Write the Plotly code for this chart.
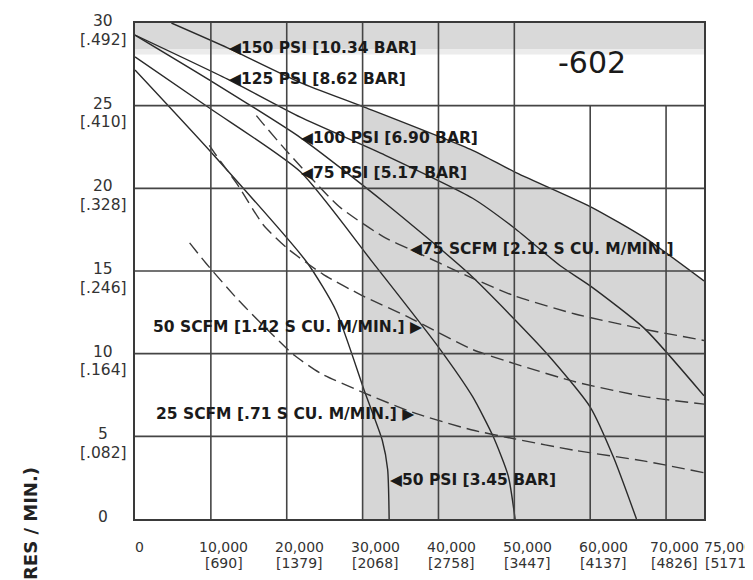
import numpy as np
import plotly.graph_objects as go

# ---------------- tick data ----------------
x_ticks = [0, 10000, 20000, 30000, 40000, 50000, 60000, 70000, 75000]
x_tick_main = ["0", "10,000", "20,000", "30,000", "40,000", "50,000", "60,000", "70,000", "75,000"]
x_tick_sub = ["", "[690]", "[1379]", "[2068]", "[2758]", "[3447]", "[4137]", "[4826]", "[5171]"]
y_ticks = [0, 5, 10, 15, 20, 25, 30]
y_tick_main = ["0", "5", "10", "15", "20", "25", "30"]
y_tick_sub = ["", "[.082]", "[.164]", "[.246]", "[.328]", "[.410]", "[.492]"]

# ---------------- pressure curves (solid) ----------------
psi150_x = [4800, 12200, 21800, 30300, 44500, 50000, 60000, 67200, 75000]
psi150_y = [30.0, 28.5, 26.4, 24.9, 22.3, 21.0, 18.9, 17.0, 14.4]

psi125_x = [0, 12200, 21800, 33000, 44500, 50000, 56100, 60000, 67200, 75000]
psi125_y = [29.27, 26.6, 24.3, 22.0, 19.4, 17.6, 15.3, 14.1, 11.5, 7.45]

psi100_x = [0, 10000, 21800, 33000, 44100, 54300, 60000, 63100, 66100]
psi100_y = [29.27, 26.5, 23.07, 19.1, 14.8, 10.0, 6.77, 3.7, 0.0]

psi75_x = [0, 10000, 21800, 31200, 40000, 44500, 47200, 49200, 50100]
psi75_y = [27.95, 24.8, 21.0, 15.6, 10.4, 7.4, 5.0, 2.6, 0.0]

psi50_x = [0, 10000, 22700, 26500, 30350, 32600, 33300, 33500]
psi50_y = [27.16, 22.2, 15.5, 12.6, 7.6, 4.75, 3.0, 0.0]

# ---------------- air consumption curves (dashed) ----------------
scfm75_x = [16000, 16900, 20100, 26900, 33000, 36100, 44300, 50000, 58000, 66900, 75000]
scfm75_y = [24.4, 23.9, 22.2, 18.9, 17.0, 16.35, 14.6, 13.5, 12.4, 11.5, 10.8]

scfm50_x = [9800, 10700, 13400, 16900, 20000, 24800, 30000, 36100, 44500, 50000, 58000, 67200, 75000]
scfm50_y = [22.6, 22.0, 20.3, 17.8, 16.4, 14.8, 13.5, 12.2, 10.25, 9.4, 8.3, 7.4, 6.95]

scfm25_x = [7200, 9300, 13500, 17900, 21000, 24500, 30350, 36900, 44300, 50000, 58000, 67200, 75000]
scfm25_y = [16.7, 15.5, 13.3, 11.25, 9.9, 8.8, 7.6, 6.4, 5.4, 4.85, 4.15, 3.5, 2.8]

SHADE_START = 30000

fig = go.Figure()

# shaded operating region under the 150 PSI curve
fill_x = [SHADE_START] + [x for x in psi150_x if x > SHADE_START]
fill_y = [float(np.interp(SHADE_START, psi150_x, psi150_y))] + [y for x, y in zip(psi150_x, psi150_y) if x > SHADE_START]
fig.add_trace(go.Scatter(x=fill_x, y=fill_y, mode="lines", fill="tozeroy",
                         fillcolor="#d6d6d6", line=dict(width=0, shape="spline", smoothing=0.6),
                         hoverinfo="skip", showlegend=False))

solid = dict(color="#2a2a2a", width=1.4, shape="spline", smoothing=0.6)
dashed = dict(color="#3a3a3a", width=1.4, shape="spline", smoothing=0.6, dash="13px,6px")

for xs, ys in [(psi150_x, psi150_y), (psi125_x, psi125_y), (psi100_x, psi100_y),
               (psi75_x, psi75_y), (psi50_x, psi50_y)]:
    fig.add_trace(go.Scatter(x=xs, y=ys, mode="lines", line=solid, hoverinfo="skip", showlegend=False))
for xs, ys in [(scfm75_x, scfm75_y), (scfm50_x, scfm50_y), (scfm25_x, scfm25_y)]:
    fig.add_trace(go.Scatter(x=xs, y=ys, mode="lines", line=dashed, hoverinfo="skip", showlegend=False))

shapes = []
# top grey band
shapes.append(dict(type="rect", xref="x", yref="y", x0=0, x1=75000, y0=28.4, y1=30,
                   fillcolor="#d9d9d9", line=dict(width=0), layer="below"))
shapes.append(dict(type="rect", xref="x", yref="y", x0=0, x1=75000, y0=28.1, y1=28.4,
                   fillcolor="#ececec", line=dict(width=0), layer="below"))
grid_col = "#454545"
for xv in x_ticks[1:-1]:
    top = 25 if xv >= 60000 else 30
    shapes.append(dict(type="line", xref="x", yref="y", x0=xv, x1=xv, y0=0, y1=top,
                       line=dict(color=grid_col, width=1.6), layer="above"))
for yv in y_ticks[1:-1]:
    shapes.append(dict(type="line", xref="x", yref="y", x0=0, x1=75000, y0=yv, y1=yv,
                       line=dict(color=grid_col, width=1.6), layer="above"))

ytick_font = dict(family="DejaVu Sans", size=15.5, color="#333333")
xtick_font = dict(family="DejaVu Sans", size=14, color="#333333")
ann = []
x_shift = {0: 4, 70000: 8, 75000: 24}
for xv, t1, t2 in zip(x_ticks, x_tick_main, x_tick_sub):
    s = x_shift.get(xv, 13)
    ann.append(dict(x=xv, y=0, xref="x", yref="paper", text=t1, showarrow=False,
                    xanchor="center", yanchor="middle", xshift=s, yshift=-28, font=xtick_font))
    if t2:
        ann.append(dict(x=xv, y=0, xref="x", yref="paper", text=t2, showarrow=False,
                        xanchor="center", yanchor="middle", xshift=s, yshift=-44, font=xtick_font))
for yv, t1, t2 in zip(y_ticks, y_tick_main, y_tick_sub):
    ann.append(dict(x=0, y=yv, xref="paper", yref="y", text=t1, showarrow=False,
                    xanchor="center", yanchor="middle", xshift=-32, yshift=2, font=ytick_font))
    if t2:
        ann.append(dict(x=0, y=yv, xref="paper", yref="y", text=t2, showarrow=False,
                        xanchor="center", yanchor="middle", xshift=-32, yshift=-16.5, font=ytick_font))

lab_font = dict(family="DejaVu Sans", size=15.5, color="#1a1a1a")
left_labels = [
    (12200, 28.5, "◀150 PSI [10.34 BAR]"),
    (12200, 26.6, "◀125 PSI [8.62 BAR]"),
    (21800, 23.07, "◀100 PSI [6.90 BAR]"),
    (21800, 20.95, "◀75 PSI [5.17 BAR]"),
    (36100, 16.35, "◀75 SCFM [2.12 S CU. M/MIN.]"),
    (33500, 2.35, "◀50 PSI [3.45 BAR]"),
]
right_labels = [
    (37900, 11.6, "50 SCFM [1.42 S CU. M/MIN.] ▶"),
    (36900, 6.37, "25 SCFM [.71 S CU. M/MIN.] ▶"),
]
for x, y, t in left_labels:
    ann.append(dict(x=x, y=y, xref="x", yref="y", text="<b>" + t + "</b>", showarrow=False,
                    xanchor="left", yanchor="middle", font=lab_font, borderpad=0))
for x, y, t in right_labels:
    ann.append(dict(x=x, y=y, xref="x", yref="y", text="<b>" + t + "</b>", showarrow=False,
                    xanchor="right", yanchor="middle", font=lab_font, borderpad=0))

ann.append(dict(x=60300, y=27.64, xref="x", yref="y", text="-602", showarrow=False,
                xanchor="center", yanchor="middle",
                font=dict(family="DejaVu Sans", size=30, color="#1a1a1a")))

# axis title: only its end is visible in the reference picture
ann.append(dict(x=0, y=-0.128, xref="paper", yref="paper", text="<b>RES / MIN.)</b>",
                showarrow=False, textangle=-90, xanchor="center", yanchor="bottom", xshift=-104,
                font=dict(family="DejaVu Sans", size=18, color="#222222")))

fig.update_layout(
    width=753, height=580, autosize=False,
    margin=dict(l=127, r=57, t=15, b=69),
    paper_bgcolor="white", plot_bgcolor="white",
    shapes=shapes, annotations=ann,
    font=dict(family="DejaVu Sans"),
    showlegend=False,
)
axis_common = dict(showgrid=False, zeroline=False, showline=True, mirror=True,
                   linecolor="#3a3a3a", linewidth=1.8, showticklabels=False, ticks="")
fig.update_xaxes(range=[0, 75000], **axis_common)
fig.update_yaxes(range=[0, 30], **axis_common)

fig.write_html("out.html")
